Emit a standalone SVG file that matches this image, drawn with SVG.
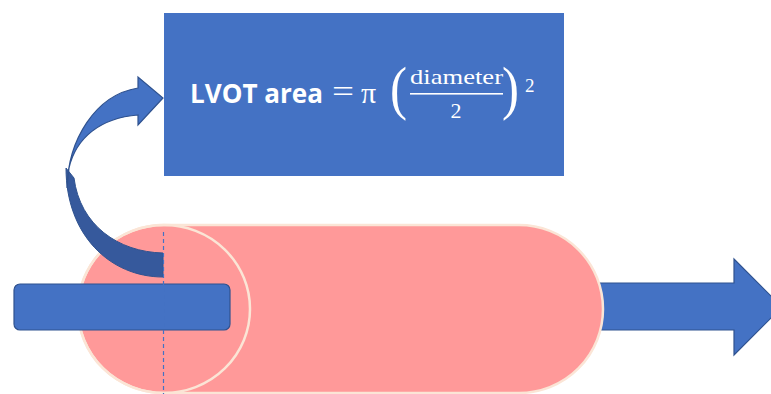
<svg xmlns="http://www.w3.org/2000/svg" width="771" height="394" viewBox="0 0 771 394">
<style>
.blue{fill:#4472C4;stroke:#2F528F;stroke-width:1.2}
.pink{fill:#FF9999;stroke:#FBE5D6;stroke-width:2.5}
.sans{font-family:"Open Sans","Liberation Sans",sans-serif;font-weight:bold;fill:#fff}
.serif{font-family:"Liberation Serif","DejaVu Serif",serif;fill:#fff}
</style>
<rect width="771" height="394" fill="#fff"/>
<g id="formula-box">
<rect x="164" y="13" width="400" height="163" fill="#4472C4"/>
<text class="sans" x="190" y="103" font-size="27" textLength="133" lengthAdjust="spacingAndGlyphs">LVOT area</text>
<text class="serif" x="332" y="102" font-size="32" textLength="22" lengthAdjust="spacingAndGlyphs">=</text>
<text class="serif" x="361" y="103" font-size="30">π</text>
<text class="serif" x="390" y="108" font-size="60" textLength="17" lengthAdjust="spacingAndGlyphs">(</text>
<text class="serif" x="410" y="84" font-size="22" textLength="93" lengthAdjust="spacingAndGlyphs">diameter</text>
<rect x="410" y="93" width="93" height="1.6" fill="#fff"/>
<text class="serif" x="456" y="118" font-size="22" text-anchor="middle">2</text>
<text class="serif" x="502" y="108" font-size="60" textLength="17" lengthAdjust="spacingAndGlyphs">)</text>
<text class="serif" x="525" y="92" font-size="19">2</text>
</g>
<g id="connectors">
<path id="flow-arrow" class="blue" d="M 580,283 L 734,283 L 734,259 L 782,307 L 734,355 L 734,330 L 580,330 Z"/>
</g>
<g id="cylinder">
<path class="pink" d="M 164,225 L 519,225 A 84,84 0 0 1 519,393 L 164,393 A 86,84 0 0 1 164,225 Z"/>
<ellipse cx="164" cy="309" rx="86" ry="84" fill="none" stroke="#FBE5D6" stroke-width="2.5"/>
</g>
<g id="curved-arrow">
<path d="M 66,168 C 66,235 110,277 163,277 L 163,253 C 118,252 80,225 74,178 Z" fill="#36599C" stroke="#2F528F" stroke-width="1"/>
<path class="blue" d="M 138,88 L 138,77 L 163,98 L 138,125 L 138,115 C 100,118 76,138 69,168 L 67,188 C 68,140 95,95 138,88 Z"/>
</g>
<g id="bar">
<rect class="blue" x="14" y="284" width="216" height="46" rx="6"/>
</g>
<g id="axis">
<line x1="163.5" y1="232" x2="163.5" y2="394" stroke="#4472C4" stroke-width="1.2" stroke-dasharray="4,3"/>
</g>
</svg>
